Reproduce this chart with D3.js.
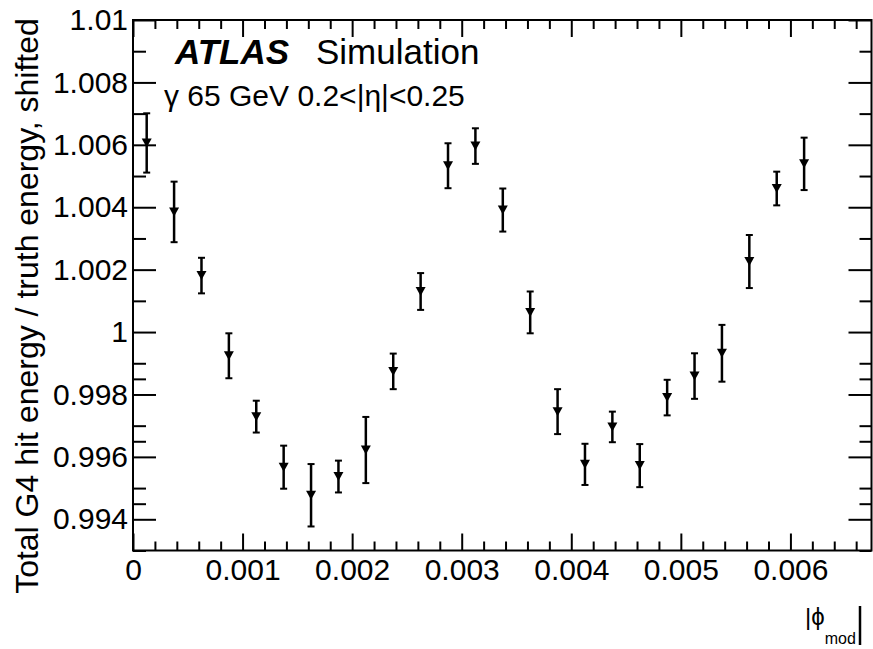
<!DOCTYPE html>
<html>
<head>
<meta charset="utf-8">
<script src="https://cdn.jsdelivr.net/npm/d3@7"></script>
<style>
  html, body { margin: 0; padding: 0; background: #fff; }
  svg text { font-family: "Liberation Sans", Arial, Helvetica, sans-serif; fill: #000; }
</style>
</head>
<body>
<svg id="chart" width="873" height="649"></svg>
<script>
// bin centres of |phi_mod| (bin width 0.00025)
var phiMod = [0.000125, 0.000375, 0.000625, 0.000875, 0.001125, 0.001375, 0.001625,
  0.001875, 0.002125, 0.002375, 0.002625, 0.002875, 0.003125, 0.003375, 0.003625,
  0.003875, 0.004125, 0.004375, 0.004625, 0.004875, 0.005125, 0.005375, 0.005625,
  0.005875, 0.006125];

// total G4 hit energy / truth energy, shifted
var ratio = [1.00606, 1.00385, 1.00181, 0.99924, 0.99729, 0.99567, 0.99477,
  0.99537, 0.99622, 0.99874, 1.00130, 1.00533, 1.00596, 1.00391, 1.00063,
  0.99745, 0.99576, 0.99696, 0.99572, 0.99790, 0.99859, 0.99932, 1.00226,
  1.00460, 1.00539];

var ratioErr = [0.00095, 0.00097, 0.00057, 0.00072, 0.00051, 0.00069, 0.00100,
  0.00051, 0.00106, 0.00057, 0.00059, 0.00072, 0.00057, 0.00069, 0.00067,
  0.00072, 0.00066, 0.00049, 0.00069, 0.00057, 0.00073, 0.00091, 0.00085,
  0.00054, 0.00084];

var xTicks = [0, 0.001, 0.002, 0.003, 0.004, 0.005, 0.006];
var xTickLabels = ['0', '0.001', '0.002', '0.003', '0.004', '0.005', '0.006'];
var yTicks = [0.994, 0.996, 0.998, 1, 1.002, 1.004, 1.006, 1.008, 1.01];
var yTickLabels = ['0.994', '0.996', '0.998', '1', '1.002', '1.004', '1.006', '1.008', '1.01'];

var margins = { left: 133, top: 20, right: 1.5, bottom: 98.5 };
var width = 873 - margins.left - margins.right;
var height = 649 - margins.top - margins.bottom;

var xScale = d3.scaleLinear().domain([0, 0.00674]).range([0, width]);
var yScale = d3.scaleLinear().domain([0.993, 1.01]).range([height, 0]);

var svg = d3.select('#chart');
var viewport = svg.append('g')
  .attr('class', 'viewport')
  .attr('transform', 'translate(' + margins.left + ', ' + margins.top + ')');

var xMinor = xScale.ticks(35).filter(function(t) { return xTicks.indexOf(+t.toFixed(4)) < 0; });
var yMinor = yScale.ticks(34).filter(function(t) { return yTicks.indexOf(+t.toFixed(3)) < 0; });

function styleAxis(g) {
  g.select('.domain').remove();
  g.selectAll('line').attr('stroke', '#000').attr('stroke-width', 2);
}

// bottom
viewport.append('g')
  .attr('transform', 'translate(0,' + height + ')')
  .call(d3.axisBottom(xScale).tickValues(xTicks)
    .tickFormat(function(d, i) { return xTickLabels[i]; })
    .tickSizeInner(-17).tickSizeOuter(0).tickPadding(8))
  .call(styleAxis)
  .selectAll('text').attr('font-size', 30);
viewport.append('g')
  .attr('transform', 'translate(0,' + height + ')')
  .call(d3.axisBottom(xScale).tickValues(xMinor).tickFormat('')
    .tickSizeInner(-9).tickSizeOuter(0))
  .call(styleAxis);

// top
viewport.append('g')
  .call(d3.axisTop(xScale).tickValues(xTicks).tickFormat('')
    .tickSizeInner(-17).tickSizeOuter(0))
  .call(styleAxis);
viewport.append('g')
  .call(d3.axisTop(xScale).tickValues(xMinor).tickFormat('')
    .tickSizeInner(-9).tickSizeOuter(0))
  .call(styleAxis);

// left
viewport.append('g')
  .call(d3.axisLeft(yScale).tickValues(yTicks)
    .tickFormat(function(d, i) { return yTickLabels[i]; })
    .tickSizeInner(-23).tickSizeOuter(0).tickPadding(5))
  .call(styleAxis)
  .selectAll('text').attr('font-size', 30);
viewport.append('g')
  .call(d3.axisLeft(yScale).tickValues(yMinor).tickFormat('')
    .tickSizeInner(-13).tickSizeOuter(0))
  .call(styleAxis);

// right
viewport.append('g')
  .attr('transform', 'translate(' + width + ',0)')
  .call(d3.axisRight(yScale).tickValues(yTicks).tickFormat('')
    .tickSizeInner(-23).tickSizeOuter(0))
  .call(styleAxis);
viewport.append('g')
  .attr('transform', 'translate(' + width + ',0)')
  .call(d3.axisRight(yScale).tickValues(yMinor).tickFormat('')
    .tickSizeInner(-12).tickSizeOuter(0))
  .call(styleAxis);

// frame
viewport.append('rect')
  .attr('width', width).attr('height', height)
  .attr('fill', 'none').attr('stroke', '#000').attr('stroke-width', 2);

// data points with error bars
var items = d3.range(phiMod.length).map(function(i) {
  return { x: phiMod[i], y: ratio[i], e: ratioErr[i] };
});

var points = viewport.selectAll('g.point').data(items).enter()
  .append('g').attr('class', 'point');

points.append('line')
  .attr('x1', function(d) { return xScale(d.x); })
  .attr('x2', function(d) { return xScale(d.x); })
  .attr('y1', function(d) { return yScale(d.y - d.e); })
  .attr('y2', function(d) { return yScale(d.y + d.e); })
  .attr('stroke', '#000').attr('stroke-width', 2.5);

[-1, 1].forEach(function(s) {
  points.append('line')
    .attr('x1', function(d) { return xScale(d.x) - 3.5; })
    .attr('x2', function(d) { return xScale(d.x) + 3.5; })
    .attr('y1', function(d) { return yScale(d.y + s * d.e); })
    .attr('y2', function(d) { return yScale(d.y + s * d.e); })
    .attr('stroke', '#000').attr('stroke-width', 2);
});

points.append('path')
  .attr('d', 'M-5,-4.5L5,-4.5L0,4.5Z')
  .attr('transform', function(d) { return 'translate(' + xScale(d.x) + ',' + yScale(d.y) + ')'; })
  .attr('fill', '#000');

// labels
svg.append('text')
  .attr('x', 175).attr('y', 64)
  .attr('font-size', 35)
  .attr('font-weight', 'bold').attr('font-style', 'italic')
  .text('ATLAS');
svg.append('text')
  .attr('x', 316).attr('y', 64)
  .attr('font-size', 35)
  .text('Simulation');
svg.append('text')
  .attr('x', 164).attr('y', 106)
  .attr('font-size', 30)
  .text('\u03b3 65 GeV 0.2<|\u03b7|<0.25');

svg.append('text')
  .attr('transform', 'translate(38,306) rotate(-90)')
  .attr('text-anchor', 'middle')
  .attr('font-size', 32)
  .text('Total G4 hit energy / truth energy, shifted');

// x title |phi_mod|
var xTitle = svg.append('text')
  .attr('x', 805).attr('y', 625)
  .attr('font-size', 24);
xTitle.append('tspan').text('|\u03d5');
xTitle.append('tspan').attr('font-size', 16).attr('dy', 19).text('mod');
svg.append('line')
  .attr('x1', 860).attr('x2', 860)
  .attr('y1', 606).attr('y2', 645)
  .attr('stroke', '#000').attr('stroke-width', 2.5);
</script>
</body>
</html>
